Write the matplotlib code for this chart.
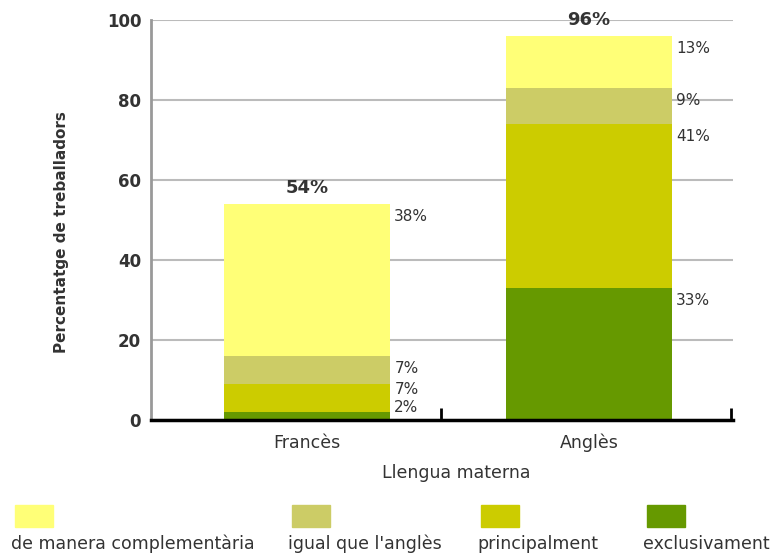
import numpy as np
import matplotlib
matplotlib.use('Agg')
import matplotlib.pyplot as plt
from matplotlib.patches import Rectangle

matplotlib.rcParams.update({'font.size': 12, 'font.family': 'DejaVu Sans'})

categories = ['Francès', 'Anglès']
series_names = ['exclusivament', 'principalment', "igual que l'anglès",
                'de manera complementària']
exclusivament = [2, 33]
principalment = [7, 41]
igual = [7, 9]
complementaria = [38, 13]
totals = ['54%', '96%']
colors = ['#669900', '#cccc00', '#cccc66', '#ffff77']

series = [exclusivament, principalment, igual, complementaria]

fig = plt.figure(figsize=(7.78, 5.53), dpi=100)
ax = fig.add_axes([0.194, 0.2405, 0.748, 0.7233])

x = np.arange(len(categories))
width = 0.59
bottom = np.zeros(len(categories))
label_pos = [[] for _ in categories]
for vals, col in zip(series, colors):
    vals = np.array(vals, dtype=float)
    ax.bar(x, vals, width, bottom=bottom, color=col, zorder=3)
    for j, (b, v) in enumerate(zip(bottom, vals)):
        label_pos[j].append((b + v, v))
    bottom = bottom + vals

# segment labels to the right of each bar, pushed up when they crowd
for j, xi in enumerate(x):
    prev = None
    for top, v in label_pos[j]:
        yl = max(top - 3, 3.25)
        if prev is not None:
            yl = max(yl, prev + 4.5)
        prev = yl
        ax.text(xi + width / 2 + 0.015, yl, '%d%%' % v, ha='left', va='center',
                fontsize=11, color='#333333', zorder=4)

for xi, tot, t in zip(x, bottom, totals):
    ax.text(xi, tot + 4, t, ha='center', va='center', fontsize=13,
            fontweight='bold', color='#333333', zorder=4)

ax.set_xlim(-0.553, 1.511)
ax.set_ylim(0, 100)
ax.set_yticks([0, 20, 40, 60, 80, 100])
ax.set_xticks(x)
ax.set_xticklabels(categories, fontsize=12.5)
ax.set_xticks([0.475, 1.505], minor=True)
ax.tick_params(axis='x', which='major', length=0, pad=10, colors='#333333')
ax.tick_params(axis='x', which='minor', length=9, width=2, direction='in', color='black')
ax.tick_params(axis='y', length=0, pad=7, colors='#333333', labelsize=12)
for lbl in ax.get_yticklabels():
    lbl.set_fontweight('bold')

ax.yaxis.grid(True, color='#bbbbbb', linewidth=1.5, zorder=0)
ax.set_axisbelow(True)
for s in ['top', 'right']:
    ax.spines[s].set_visible(False)
ax.spines['left'].set_color('#999999')
ax.spines['left'].set_linewidth(2)
ax.spines['bottom'].set_color('black')
ax.spines['bottom'].set_linewidth(2.5)
ax.spines['bottom'].set_zorder(5)

ax.set_ylabel('Percentatge de treballadors', color='#333333',
              fontsize=11, fontweight='bold')
ax.yaxis.set_label_coords(-0.141, 0.47)
ax.set_xlabel('Llengua materna', color='#333333', fontsize=12.5)
ax.xaxis.set_label_coords(0.524, -0.11)

# legend: square patches above the text
leg_x = [15, 292, 481, 647]
leg_order = [3, 2, 1, 0]
for px, i in zip(leg_x, leg_order):
    fig.patches.append(Rectangle((px / 778, 1 - 527 / 553), 38 / 778, 22 / 553,
                                 transform=fig.transFigure, color=colors[i]))
    fig.text((px - 4) / 778, 1 - 544 / 553, series_names[i], ha='left', va='center',
             fontsize=12.5, color='#333333')

plt.savefig('out.png')
